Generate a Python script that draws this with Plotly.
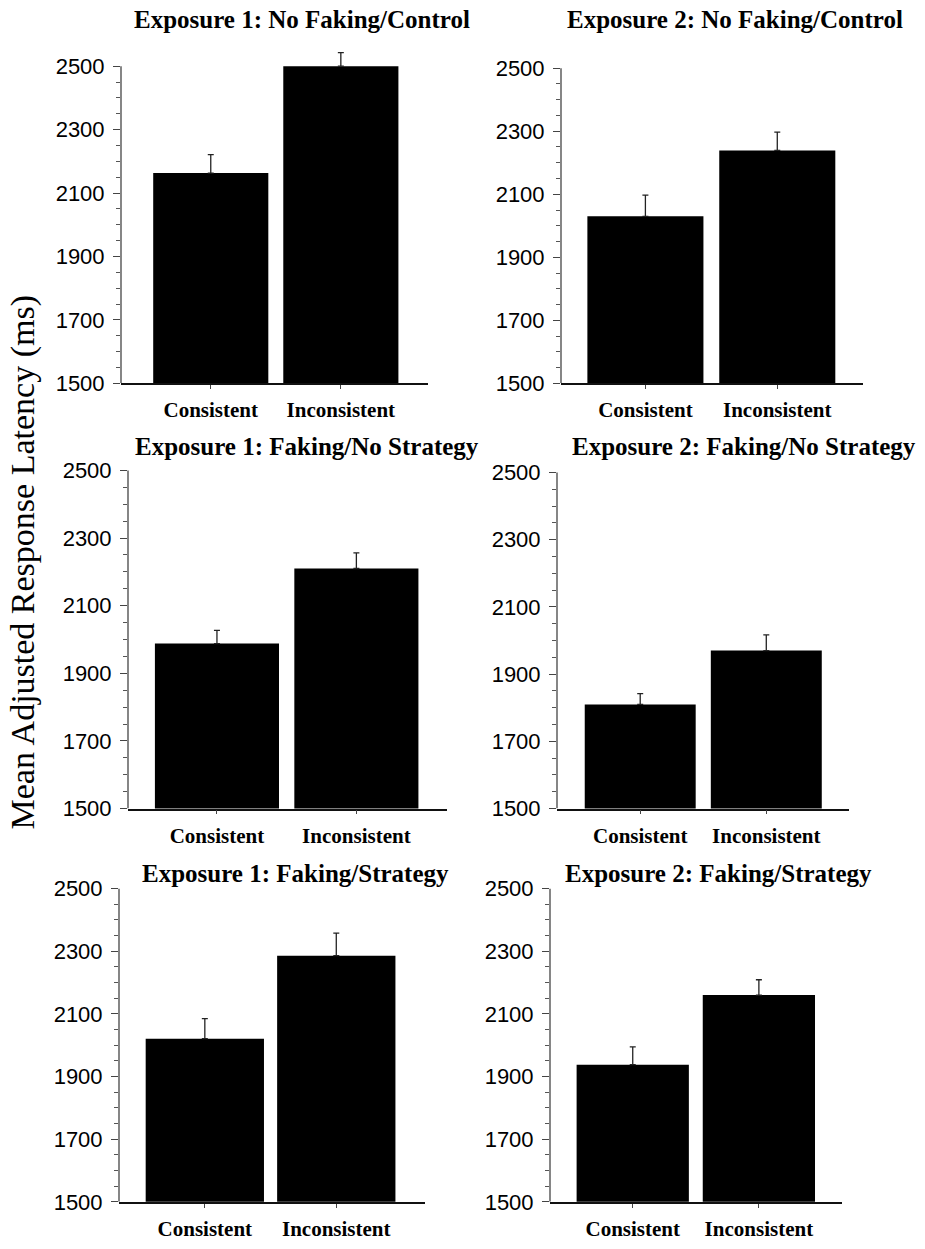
import plotly.graph_objects as go

# page offset of the figure (body margin), figure size, and vertical
# photo scale observed for this page size
OX, OY = 8, 8
FW, FH = 925 - 2 * OX, 1249 - 2 * OY
S = 0.980
BOTTOM_ROW_AXIS_PAGE = 1225.5  # page position of the lowest x axes (keeps page height stable)

categories = ["Consistent", "Inconsistent"]
tick_vals = [1500, 1700, 1900, 2100, 2300, 2500]
tick_text = ["1500", "1700", "1900", "2100", "2300", "2500"]

titles = [
    "Exposure 1: No Faking/Control",
    "Exposure 2: No Faking/Control",
    "Exposure 1: Faking/No Strategy",
    "Exposure 2: Faking/No Strategy",
    "Exposure 1: Faking/Strategy",
    "Exposure 2: Faking/Strategy",
]

e1_control_means = [2163, 2500]
e1_control_err = [58, 43]
e2_control_means = [2030, 2239]
e2_control_err = [67, 58]
e1_nostrat_means = [1988, 2210]
e1_nostrat_err = [39, 46]
e2_nostrat_means = [1810, 1970]
e2_nostrat_err = [32, 47]
e1_strat_means = [2021, 2286]
e1_strat_err = [64, 72]
e2_strat_means = [1938, 2160]
e2_strat_err = [57, 49]

means = [e1_control_means, e2_control_means, e1_nostrat_means,
         e2_nostrat_means, e1_strat_means, e2_strat_means]
errs = [e1_control_err, e2_control_err, e1_nostrat_err,
        e2_nostrat_err, e1_strat_err, e2_strat_err]

Y_MIN, Y_MAX, Y_TOP = 1500, 2500, 2550

# target pixel boxes of the 1500..2500 region: x0, x1, ytop, ybottom
boxes = [
    (121, 428, 66, 383),
    (561, 863, 68, 383),
    (128, 447, 470, 808),
    (557, 849, 472, 808),
    (119, 425, 888, None),
    (550, 842, 888, None),
]
xranges = [(-0.69, 1.67), (-0.64, 1.65), (-0.638, 1.65),
           (-0.66, 1.656), (-0.653, 1.675), (-0.656, 1.659)]
bar_widths = [0.885, 0.88, 0.89, 0.88, 0.90, 0.89]
title_pos = [(302, 19), (735, 19), (307, 446), (744, 446), (295, 873), (718, 873)]


def fx(px):
    return (px - OX) / FW


def page_y(py):
    return py / S


def fy_page(pg):
    return 1 - (pg - OY) / FH


fig = go.Figure()
layout = dict(
    width=FW, height=FH, autosize=False,
    margin=dict(l=0, r=0, t=0, b=0),
    paper_bgcolor="white", plot_bgcolor="white",
    showlegend=False,
)
annotations = []
shapes = []
for i in range(6):
    n = "" if i == 0 else str(i + 1)
    fig.add_trace(go.Bar(
        x=categories, y=means[i],
        width=bar_widths[i],
        marker=dict(color="black", line=dict(width=0)),
        error_y=dict(type="data", symmetric=False, array=errs[i],
                     arrayminus=[0, 0], color="#222222", thickness=1.3, width=3),
        xaxis="x" + n, yaxis="y" + n, hoverinfo="skip",
    ))
    x0, x1, yt, yb = boxes[i]
    pt = page_y(yt)
    pb = BOTTOM_ROW_AXIS_PAGE if yb is None else page_y(yb)
    ppu = (pb - pt) / (Y_MAX - Y_MIN)
    pt_ext = pb - (Y_TOP - Y_MIN) * ppu
    layout["xaxis" + n] = dict(
        domain=[fx(x0), fx(x1)], anchor="y" + n, type="category",
        range=list(xranges[i]), showgrid=False, zeroline=False,
        showline=True, linecolor="#111111", linewidth=1.5,
        ticks="outside", ticklen=4, tickcolor="#444444", tickwidth=1,
        ticklabelstandoff=3,
        tickfont=dict(family="Liberation Serif", size=21, color="black", weight="bold"),
        fixedrange=True,
    )
    layout["yaxis" + n] = dict(
        domain=[fy_page(pb), fy_page(pt_ext)], anchor="x" + n,
        range=[Y_MIN, Y_TOP], showgrid=False, zeroline=False,
        showline=False,
        tickmode="array", tickvals=tick_vals, ticktext=tick_text,
        ticks="outside", ticklen=7, tickcolor="#444444", tickwidth=1,
        ticklabelstandoff=4,
        minor=dict(tickvals=list(range(Y_MIN, Y_MAX + 1, 50)), ticks="outside",
                   ticklen=4, tickcolor="#555555", tickwidth=1),
        tickfont=dict(family="Liberation Sans", size=22, color="black"),
        fixedrange=True,
    )
    shapes.append(dict(
        type="line", xref="x" + n + " domain", yref="y" + n,
        x0=0, x1=0, y0=Y_MIN, y1=Y_MAX,
        line=dict(color="#444444", width=1.3), layer="above",
    ))
    tx, ty = title_pos[i]
    annotations.append(dict(
        text="<b>" + titles[i] + "</b>", xref="paper", yref="paper",
        x=fx(tx), y=fy_page(page_y(ty)), xanchor="center", yanchor="middle",
        showarrow=False,
        font=dict(family="Liberation Serif", size=25, color="black"),
    ))

annotations.append(dict(
    text="Mean Adjusted Response Latency (ms)", xref="paper", yref="paper",
    x=fx(23), y=fy_page(page_y(562)), xanchor="center", yanchor="middle",
    textangle=-90, showarrow=False,
    font=dict(family="Liberation Serif", size=34, color="black"),
))
layout["annotations"] = annotations
layout["shapes"] = shapes
fig.update_layout(**layout)
fig.write_html("out.html")
